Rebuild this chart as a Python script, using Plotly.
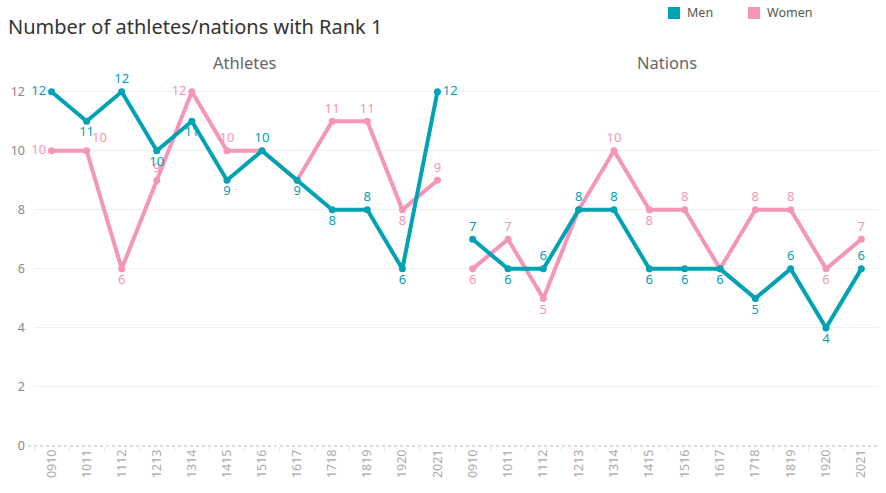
import plotly.graph_objects as go

seasons = ["0910", "1011", "1112", "1213", "1314", "1415", "1516", "1617", "1718", "1819", "1920", "2021"]

athletes_men = [12, 11, 12, 10, 11, 9, 10, 9, 8, 8, 6, 12]
athletes_women = [10, 10, 6, 9, 12, 10, 10, 9, 11, 11, 8, 9]
nations_men = [7, 6, 6, 8, 8, 6, 6, 6, 5, 6, 4, 6]
nations_women = [6, 7, 5, 8, 10, 8, 8, 6, 8, 8, 6, 7]

# label placement (style)
pos_am = ["middle left", "bottom center", "top center", "bottom center", "bottom center", "bottom center",
          "top center", "bottom center", "bottom center", "top center", "bottom center", "middle right"]
pos_aw = ["middle left", "top right", "bottom center", "top center", "middle left", "top center",
          "top center", "top center", "top center", "top center", "bottom center", "top center"]
show_aw = [1, 1, 1, 1, 1, 1, 0, 0, 1, 1, 1, 1]
pos_nm = ["top center", "bottom center", "top center", "top center", "top center", "bottom center",
          "bottom center", "bottom center", "bottom center", "top center", "bottom center", "top center"]
pos_nw = ["bottom center", "top center", "bottom center", "top center", "top center", "bottom center",
          "top center", "top center", "top center", "top center", "bottom center", "top center"]
show_nw = [1, 1, 1, 0, 1, 1, 1, 0, 1, 1, 1, 1]

MEN = "#00A2B3"
WOMEN = "#F596B8"
FONT = "Noto Sans"

fig = go.Figure()

def add(vals, pos, color, xa, ya, show=None):
    text = [str(v) if (show is None or show[i]) else "" for i, v in enumerate(vals)]
    fig.add_trace(go.Scatter(
        x=seasons, y=vals, mode="lines+markers+text", text=text, textposition=pos,
        textfont=dict(color=color, size=13, family=FONT),
        line=dict(color=color, width=4), marker=dict(color=color, size=7),
        xaxis=xa, yaxis=ya, showlegend=False, cliponaxis=False, hoverinfo="skip"))

add(athletes_women, pos_aw, WOMEN, "x", "y", show_aw)
add(athletes_men, pos_am, MEN, "x", "y")
add(nations_women, pos_nw, WOMEN, "x2", "y2", show_nw)
add(nations_men, pos_nm, MEN, "x2", "y2")

W, H = 886, 493
l, r, t, b = 34, 7, 74, 47
pw = W - l - r
ph = H - t - b
split = (455 - l) / pw

def px(xpix):
    return (xpix - l) / pw

def py(ypix):
    return (H - b - ypix) / ph

xcommon = dict(type="category", categoryorder="array", categoryarray=seasons, range=[-0.5, 11.5],
               tickangle=-90, tickfont=dict(size=12.5, color="#aaaaaa", family=FONT),
               showgrid=False, ticks="outside", tickson="boundaries", ticklen=4, tickcolor="#e6e6e6",
               showline=False, zeroline=False, fixedrange=True, automargin=False)
ycommon = dict(range=[0, 12.6], tickvals=[0, 2, 4, 6, 8, 10, 12], showgrid=True, gridcolor="#efefef",
               gridwidth=1, zeroline=False, showline=False, automargin=False, fixedrange=True)

legend_items = [("Men", MEN, 668), ("Women", WOMEN, 748)]
shapes = [dict(type="line", xref="paper", yref="paper", x0=px(28), x1=1, y0=0, y1=0,
               line=dict(color="#bbbbbb", width=1, dash="dot"))]
annotations = [
    dict(text="Number of athletes/nations with Rank 1", x=px(6), xanchor="left", xref="paper",
         y=py(27), yref="paper", yanchor="middle", showarrow=False,
         font=dict(size=20, color="#333333", family=FONT)),
    dict(text="Athletes", x=split / 2, xanchor="center", xref="paper", y=py(62), yref="paper",
         showarrow=False, font=dict(size=16.5, color="#666666", family=FONT), yanchor="middle"),
    dict(text="Nations", x=(split + 1) / 2, xanchor="center", xref="paper", y=py(62), yref="paper",
         showarrow=False, font=dict(size=16.5, color="#666666", family=FONT), yanchor="middle"),
]
for name, col, x0 in legend_items:
    shapes.append(dict(type="rect", xref="paper", yref="paper", x0=px(x0), x1=px(x0 + 12),
                       y0=py(19), y1=py(7), fillcolor=col, line=dict(width=0)))
    annotations.append(dict(text=name, x=px(x0 + 17), xanchor="left", xref="paper", y=py(13),
                            yref="paper", yanchor="middle", showarrow=False,
                            font=dict(size=12.5, color="#555555", family=FONT)))

fig.update_layout(
    width=W, height=H, margin=dict(l=l, r=r, t=t, b=b, autoexpand=False),
    paper_bgcolor="white", plot_bgcolor="white", showlegend=False,
    font=dict(family=FONT, color="#555555"),
    xaxis=dict(domain=[0, split], **xcommon),
    xaxis2=dict(domain=[split, 1], **xcommon),
    yaxis=dict(anchor="x", ticklabelstandoff=8,
               tickfont=dict(size=12.5, color="#888888", family=FONT), **ycommon),
    yaxis2=dict(anchor="x2", showticklabels=False, **ycommon),
    annotations=annotations,
    shapes=shapes,
)

fig.write_html("out.html", config={"displayModeBar": False},
               post_script="document.body.style.margin='0';")
